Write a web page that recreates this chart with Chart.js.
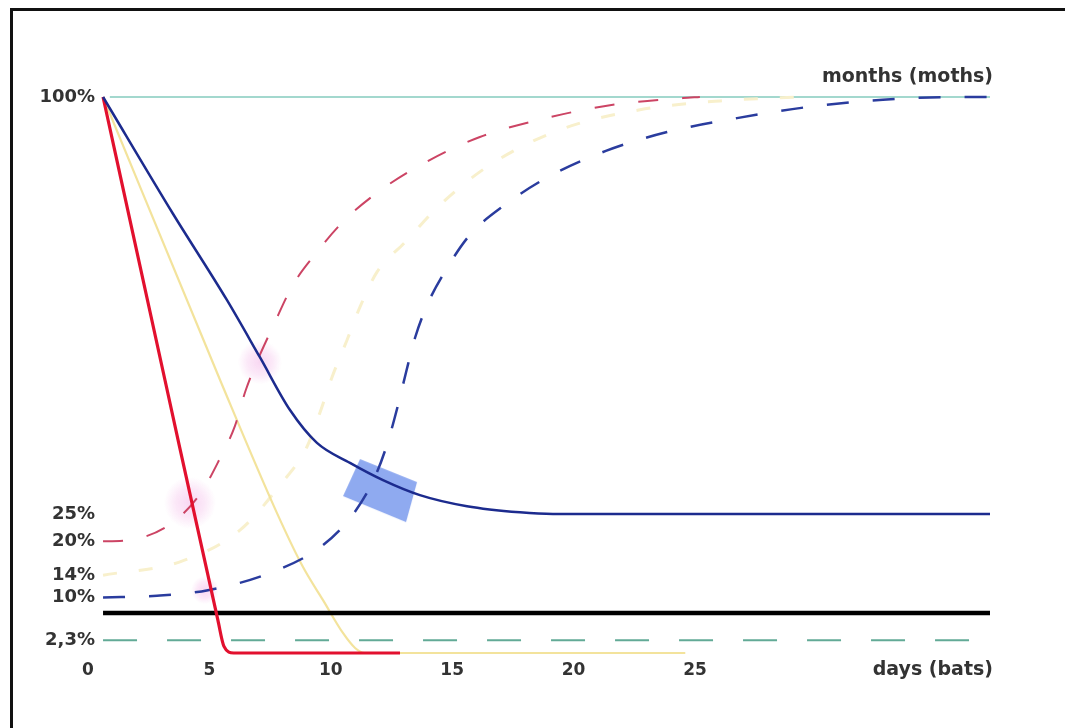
<!DOCTYPE html>
<html><head><meta charset="utf-8">
<script src="https://cdn.jsdelivr.net/npm/chart.js@4/dist/chart.umd.min.js"></script>
<style>html,body{margin:0;padding:0;background:#fff;}</style>
</head><body>
<canvas id="c" width="1065" height="728"></canvas>
<script>
// ---- axis ticks ----
const xTicks = [0, 5, 10, 15, 20, 25];
const yTicks = [100, 25, 20, 14, 10, 2.3];
const yTickLabels = ['100%', '25%', '20%', '14%', '10%', '2,3%'];
const xAxisLabel = 'days (bats)';
const topLabel = 'months (moths)';

// ---- series (x = days, y = %) ----
const blueSolidX = [0.62, 3.5, 5.72, 7.08, 8.32, 9.43, 10.79, 12.15, 13.67, 15.61, 17.79, 19.15, 37.15];
const blueSolidY = [100, 79, 63.5, 53.2, 43.7, 37.8, 34.2, 31.1, 28.4, 26.4, 25.3, 25, 25];

const redSolidX = [0.62, 3.17, 5.35, 5.6, 6.0, 12.85];
const redSolidY = [100, 49.1, 5.9, 1.2, 0, 0];

const yellowSolidX = [0.62, 5.44, 7.78, 8.85, 9.68, 10.5, 11.0, 11.4, 24.6];
const yellowSolidY = [100, 49.1, 25.2, 15.5, 9.5, 3.6, 0.9, 0, 0];

const redDashX = [0.62, 1.44, 3.34, 4.65, 5.4, 6.05, 6.5, 7.74, 8.44, 9.39, 10.58, 12.07, 13.92, 16.14, 18.86, 21.62, 24.5, 25.2];
const redDashY = [20.1, 20.2, 23.0, 28.8, 34.7, 40.8, 47.3, 59.9, 66.2, 71.9, 77.9, 83.3, 88.3, 92.8, 96.2, 98.6, 99.8, 100];

const blueDashX = [0.62, 2.84, 4.94, 7.62, 9.68, 10.96, 11.78, 12.31, 12.77, 13.1, 13.47, 14.0, 14.74, 15.73, 17.17, 19.03, 21.33, 23.85, 26.73, 29.65, 32.74, 35.79, 37.15];
const blueDashY = [10.0, 10.3, 11.3, 14.6, 19.4, 25.2, 31.3, 37.4, 44.6, 50.5, 56.7, 62.9, 68.9, 75.2, 80.6, 85.8, 90.3, 93.7, 96.2, 98.2, 99.5, 100, 100];

const yellowDashX = [0.62, 3.79, 6.26, 7.91, 9.02, 9.56, 10.05, 10.67, 11.2, 11.9, 13.06, 14.5, 16.56, 19.44, 22.73, 26.03, 29.32];
const yellowDashY = [14.0, 16.4, 22.1, 30.2, 37.1, 43.3, 49.6, 56.3, 62.2, 68.5, 73.9, 80.6, 87.8, 94.1, 97.7, 99.3, 100];

const refTopX = [0.9, 37.15];      const refTopY = [100, 100];
const refBlackX = [0.62, 37.15];   const refBlackY = [7.2, 7.2];
const refGreenX = [0.62, 37.15];   const refGreenY = [2.3, 2.3];

const pinkSpotX = [7.08, 4.2, 4.82];
const pinkSpotY = [52.3, 27.0, 11.3];
const pinkSpotR = [22, 26, 14];
const blueSquareX = [12.07];
const blueSquareY = [29.3];

const pts = (xs, ys) => xs.map((x, i) => ({x, y: ys[i]}));

const lineDs = (xs, ys, color, width, dash, extra) => Object.assign({
  type: 'line', data: pts(xs, ys), borderColor: color, borderWidth: width,
  borderDash: dash || [], pointRadius: 0, fill: false, clip: false,
  cubicInterpolationMode: 'monotone', borderCapStyle: 'butt'
}, extra || {});

// marker images
function spotImage(r, rgb) {
  const c = document.createElement('canvas');
  c.width = c.height = 2 * r;
  const g = c.getContext('2d');
  const grd = g.createRadialGradient(r, r, 0, r, r, r);
  grd.addColorStop(0, 'rgba(' + rgb + ',0.38)');
  grd.addColorStop(0.55, 'rgba(' + rgb + ',0.22)');
  grd.addColorStop(1, 'rgba(' + rgb + ',0)');
  g.fillStyle = grd;
  g.fillRect(0, 0, 2 * r, 2 * r);
  return c;
}
function boxImage() {
  const c = document.createElement('canvas');
  c.width = 84; c.height = 72;
  const g = c.getContext('2d');
  const cx = 42, cy = 36;
  g.fillStyle = 'rgba(112,146,236,0.78)';
  g.beginPath();
  g.moveTo(cx - 21, cy - 31);
  g.lineTo(cx + 36, cy - 8);
  g.lineTo(cx + 25, cy + 32);
  g.lineTo(cx - 38, cy + 6);
  g.closePath();
  g.fill();
  return c;
}
const pinkImgs = pinkSpotR.map(r => spotImage(r, '238,150,222'));
const boxImg = boxImage();

const framePlugin = {
  id: 'frame',
  beforeDraw(chart) {
    const ctx = chart.ctx;
    ctx.save();
    ctx.fillStyle = '#fff';
    ctx.fillRect(0, 0, chart.width, chart.height);
    ctx.strokeStyle = '#111';
    ctx.lineWidth = 3;
    ctx.beginPath();
    ctx.moveTo(11.5, 728); ctx.lineTo(11.5, 9.5); ctx.lineTo(1065, 9.5);
    ctx.stroke();
    ctx.restore();
  },
  afterDraw(chart) {
    const ctx = chart.ctx, a = chart.chartArea, ys = chart.scales.y;
    ctx.save();
    ctx.fillStyle = '#333';
    ctx.font = 'bold 19px "DejaVu Sans"';
    ctx.textAlign = 'right';
    ctx.textBaseline = 'middle';
    ctx.fillText(topLabel, a.right + 3, ys.getPixelForValue(100) - 20);
    ctx.fillText(xAxisLabel, a.right + 3, a.bottom + 17);
    ctx.restore();
  }
};

new Chart(document.getElementById('c'), {
  type: 'line',
  data: {
    datasets: [
      lineDs(blueSolidX, blueSolidY, '#1c2b8e', 2.5),
      lineDs(redSolidX, redSolidY, '#e2102e', 3.2),
      lineDs(redDashX, redDashY, '#cc4464', 2, [20, 24]),
      lineDs(blueDashX, blueDashY, '#2a3c9e', 2.5, [22, 24]),
      lineDs(refBlackX, refBlackY, '#000000', 4.5),
      lineDs(refGreenX, refGreenY, '#62aa96', 2, [34, 30]),
      lineDs(yellowSolidX, yellowSolidY, '#f3e39c', 2.2),
      lineDs(yellowDashX, yellowDashY, '#f8f0cc', 3, [14, 22]),
      lineDs(refTopX, refTopY, '#a3d8ce', 1.8),
      {type: 'scatter', data: pts(blueSquareX, blueSquareY), pointStyle: boxImg,
       pointRadius: 30, borderWidth: 0, clip: false},
      {type: 'scatter', data: pts(pinkSpotX, pinkSpotY), pointStyle: pinkImgs,
       pointRadius: pinkSpotR, borderWidth: 0, clip: false}
    ]
  },
  options: {
    responsive: false,
    animation: false,
    events: [],
    layout: {padding: {left: 0, right: 75, top: 97, bottom: 0}},
    plugins: {legend: {display: false}, tooltip: {enabled: false}},
    scales: {
      x: {
        type: 'linear', min: 0.33, max: 37.15,
        grid: {display: false, drawTicks: false},
        border: {display: false},
        afterBuildTicks: s => { s.ticks = xTicks.map(v => ({value: v})); },
        afterFit: s => { s.height = 75; },
        ticks: {autoSkip: false, maxRotation: 0, padding: 7, color: '#333',
                font: {family: '"DejaVu Sans"', size: 17, weight: 'bold'}}
      },
      y: {
        type: 'linear', min: 0, max: 100,
        grid: {display: false, drawTicks: false},
        border: {display: false},
        afterBuildTicks: s => { s.ticks = yTicks.map(v => ({value: v})); },
        afterFit: s => { s.width = 96; },
        ticks: {autoSkip: false, padding: 1, color: '#333',
                font: {family: '"DejaVu Sans"', size: 18, weight: 'bold'},
                callback: v => yTickLabels[yTicks.indexOf(v)]}
      }
    }
  },
  plugins: [framePlugin]
});
</script>
</body></html>
